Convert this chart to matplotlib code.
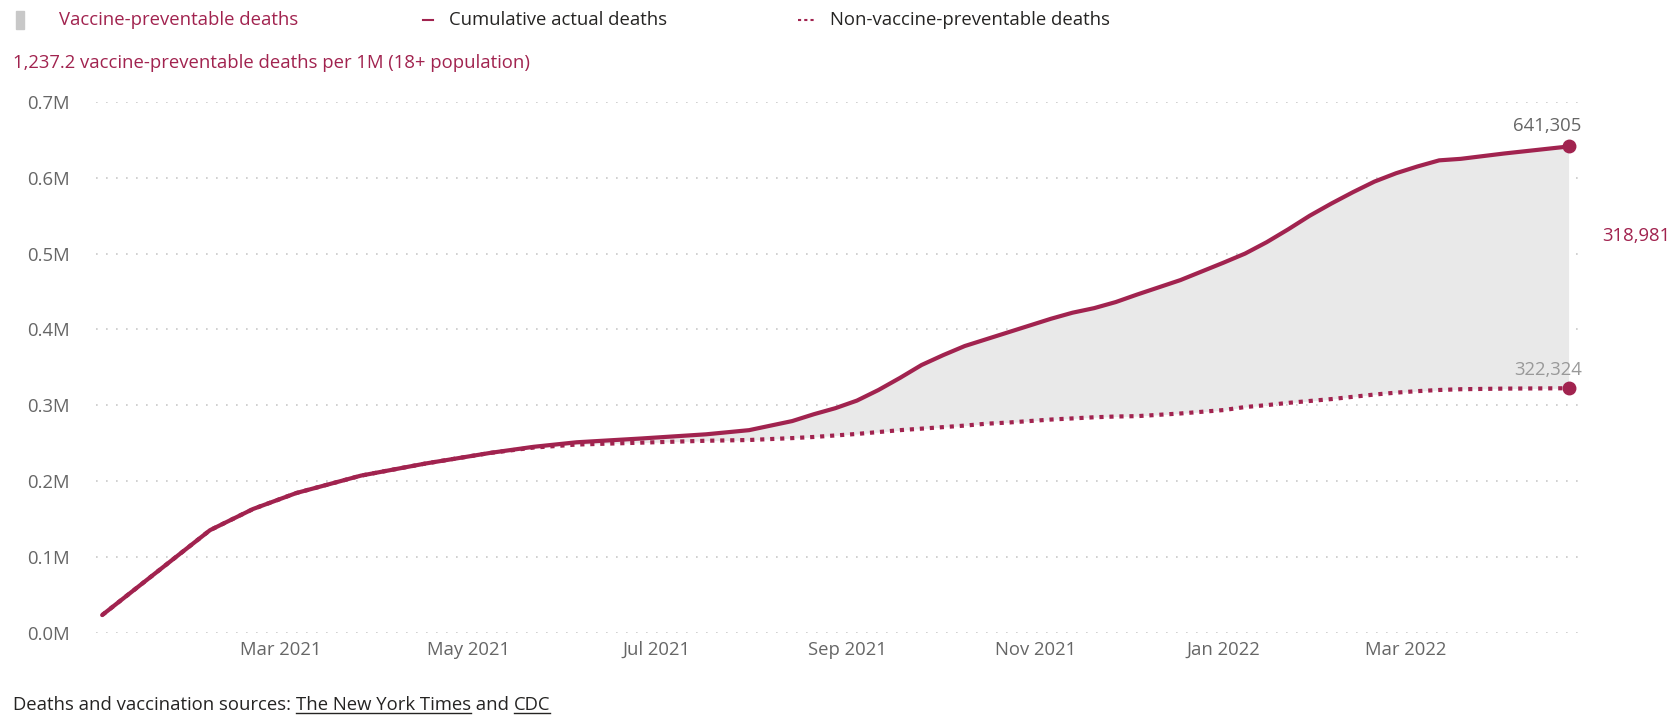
import matplotlib
matplotlib.use('Agg')
import pandas as pd
import matplotlib.pyplot as plt
from matplotlib.lines import Line2D
from matplotlib.patches import Rectangle

# reporting dates
dates = ['2021-01-02', '2021-02-06', '2021-02-20', '2021-03-06', '2021-03-27',
         '2021-04-17', '2021-05-08', '2021-05-22', '2021-06-05', '2021-06-26',
         '2021-07-17', '2021-07-31', '2021-08-14', '2021-08-21', '2021-08-28',
         '2021-09-04', '2021-09-11', '2021-09-18', '2021-09-25', '2021-10-02',
         '2021-10-09', '2021-10-16', '2021-10-23', '2021-10-30', '2021-11-06',
         '2021-11-13', '2021-11-20', '2021-11-27', '2021-12-04', '2021-12-18',
         '2022-01-01', '2022-01-08', '2022-01-15', '2022-01-22', '2022-01-29',
         '2022-02-05', '2022-02-12', '2022-02-19', '2022-02-26', '2022-03-05',
         '2022-03-12', '2022-03-19', '2022-04-02', '2022-04-23']
actual_deaths = [23000, 135000, 163000, 184000, 207000,
                 223000, 237000, 245000, 251000, 256000,
                 261500, 267000, 279000, 288000, 296000,
                 306000, 320000, 336000, 353000, 366000,
                 378000, 387000, 396000, 405000, 414000,
                 422000, 428000, 436000, 446000, 465000,
                 488000, 500000, 515000, 532000, 550000,
                 566000, 581000, 595000, 606000, 615000,
                 623000, 625000, 632000, 641305]
nonvax_deaths = [23000, 135000, 163000, 184000, 207000,
                 223000, 237000, 244000, 248000, 250500,
                 253000, 254000, 256500, 258000, 260000,
                 262000, 264500, 267000, 269000, 271000,
                 273000, 275500, 277000, 279000, 281000,
                 282500, 284000, 285000, 285500, 289000,
                 293500, 297500, 300000, 303000, 305500,
                 308000, 311000, 314000, 316500, 318500,
                 320000, 321000, 321800, 322324]

tick_dates = ['2021-03-01', '2021-05-01', '2021-07-01', '2021-09-01',
              '2021-11-01', '2022-01-01', '2022-03-01']
tick_labels = ['Mar 2021', 'May 2021', 'Jul 2021', 'Sep 2021',
               'Nov 2021', 'Jan 2022', 'Mar 2022']
y_ticks = [0, 100000, 200000, 300000, 400000, 500000, 600000, 700000]

per_million = 1237.2

maroon = '#A1234F'
dark = '#252423'
grey = '#666666'
fs = 13.3

plt.rcParams['font.family'] = ['Open Sans', 'DejaVu Sans']

W, H = 1671, 717
fig = plt.figure(figsize=(W / 100, H / 100), dpi=100)
ax = fig.add_axes([96 / W, 1 - 632.5 / H, (1585 - 96) / W, (632.5 - 102) / H])

x = pd.to_datetime(dates)
ax.fill_between(x, nonvax_deaths, actual_deaths, color='#E9E9E9', lw=0, zorder=1)
ax.plot(x, nonvax_deaths, color=maroon, lw=3, linestyle=(0, (1, 1.4)), zorder=2)
ax.plot(x, actual_deaths, color=maroon, lw=3, solid_capstyle='round',
        solid_joinstyle='round', zorder=3)
ax.plot(x[-1:], actual_deaths[-1:], 'o', color=maroon, ms=9, clip_on=False, zorder=4)
ax.plot(x[-1:], nonvax_deaths[-1:], 'o', color=maroon, ms=9, clip_on=False, zorder=4)

ax.annotate(f'{actual_deaths[-1]:,}', (x[-1], actual_deaths[-1]), xytext=(9.5, 15),
            textcoords='offset points', ha='right', va='center', color=grey, fontsize=fs)
ax.annotate(f'{nonvax_deaths[-1]:,}', (x[-1], nonvax_deaths[-1]), xytext=(9.5, 13),
            textcoords='offset points', ha='right', va='center', color='#999999',
            fontsize=fs)
fig.text(1602 / W, 1 - 236 / H, f'{actual_deaths[-1] - nonvax_deaths[-1]:,}',
         ha='left', va='center', color=maroon, fontsize=fs)

ax.set_xlim(pd.Timestamp('2020-12-31'), pd.Timestamp('2022-04-28 08:00'))
ax.set_ylim(0, 700000)
ax.set_xticks(pd.to_datetime(tick_dates))
ax.set_xticklabels(tick_labels)
ax.set_yticks(y_ticks)
ax.set_yticklabels([f'{v / 1e6:.1f}M' for v in y_ticks])
ax.tick_params(axis='both', length=0, labelcolor=grey, labelsize=fs)
ax.tick_params(axis='y', pad=19)
ax.tick_params(axis='x', pad=6)
for s in ax.spines.values():
    s.set_visible(False)
ax.grid(axis='y', color='#C8C8C8', lw=1.2, linestyle=(0, (1, 5)))
ax.set_axisbelow(True)

# legend row
fig.add_artist(Rectangle((16 / W, 1 - 29 / H), 8 / W, 18 / H, color='#C8C8C8',
                         transform=fig.transFigure))
fig.text(59 / W, 1 - 20 / H, 'Vaccine-preventable deaths', color=maroon,
         fontsize=fs, va='center')
fig.add_artist(Line2D([423 / W, 433 / W], [1 - 20 / H] * 2, color=maroon, lw=1.5,
                      transform=fig.transFigure))
fig.text(449 / W, 1 - 20 / H, 'Cumulative actual deaths', color=dark,
         fontsize=fs, va='center')
fig.add_artist(Line2D([798 / W, 814 / W], [1 - 20 / H] * 2, color=maroon, lw=1.5,
                      linestyle=(0, (1.5, 1.5)), transform=fig.transFigure))
fig.text(830 / W, 1 - 20 / H, 'Non-vaccine-preventable deaths', color=dark,
         fontsize=fs, va='center')

fig.text(13 / W, 1 - 63 / H,
         f'{per_million:,.1f} vaccine-preventable deaths per 1M (18+ population)',
         color=maroon, fontsize=fs, va='center')

# footer with underlined sources
pieces = [('Deaths and vaccination sources: ', False), ('The New York Times', True),
          (' and ', False), ('CDC', True)]
fig.canvas.draw()
r = fig.canvas.get_renderer()
xpos = 13
for txt, link in pieces:
    t = fig.text(xpos / W, 1 - 705 / H, txt, color=dark, fontsize=fs, va='center')
    bb = t.get_window_extent(renderer=r)
    if link:
        fig.add_artist(Line2D([bb.x0 / W, bb.x1 / W], [(bb.y0 + 1) / H] * 2,
                              color=dark, lw=1, transform=fig.transFigure))
    xpos = bb.x1

fig.savefig('out.png', dpi=100)
